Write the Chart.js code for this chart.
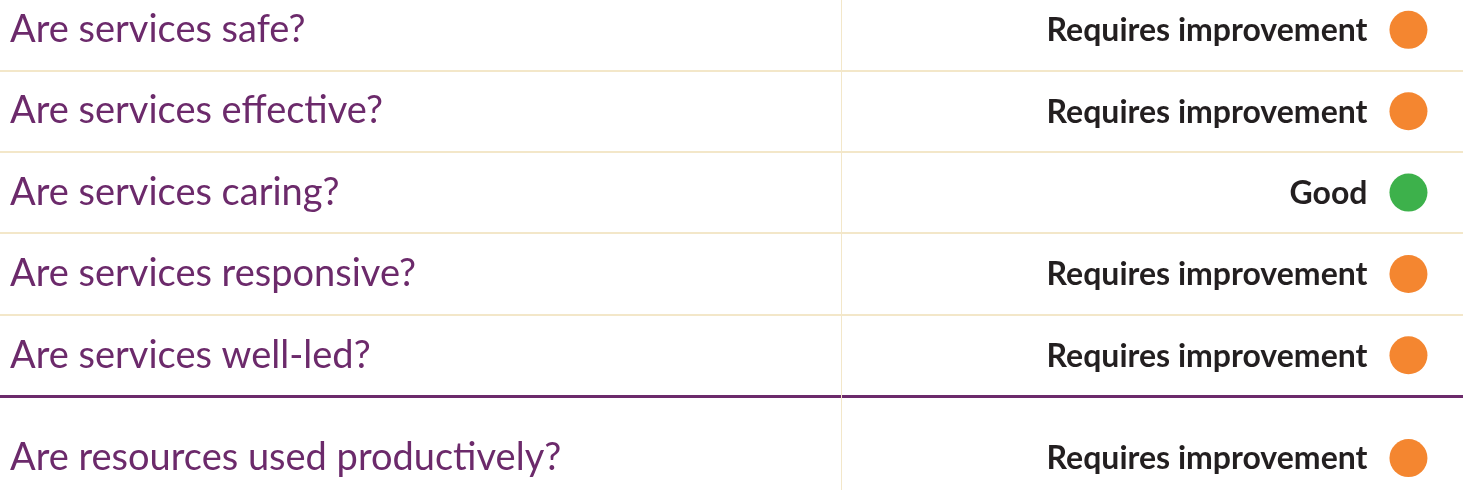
<!DOCTYPE html>
<html>
<head>
<meta charset="utf-8">
<script src="https://cdn.jsdelivr.net/npm/chart.js"></script>
<style>
    html, body { margin: 0; padding: 0; background: #ffffff; }
    body { width: 1463px; height: 490px; overflow: hidden; position: relative; }
    #canvas1 { position: absolute; left: 0; top: -11px; }
    #canvas2 { position: absolute; left: 0; top: 396px; }
</style>
</head>
<body>
<canvas id="canvas1" width="1463" height="411"></canvas>
<canvas id="canvas2" width="1463" height="128"></canvas>
<script>
// key questions
const keyQuestions = [
    "Are services safe?",
    "Are services effective?",
    "Are services caring?",
    "Are services responsive?",
    "Are services well-led?"
];
const keyRatings = [
    "Requires improvement",
    "Requires improvement",
    "Good",
    "Requires improvement",
    "Requires improvement"
];

// use of resources
const resourceQuestions = ["Are resources used productively?"];
const resourceRatings = ["Requires improvement"];

const ratingColours = {
    "Good": "#3db14b",
    "Requires improvement": "#f48630"
};

const purple = "#6c2a6b";
const beige = "#f3e7c9";

// rating text next to each dot + column divider
const ratingLabels = {
    id: "ratingLabels",
    beforeDatasetsDraw: function (chart) {
        let ctx = chart.ctx;
        ctx.save();
        ctx.strokeStyle = beige;
        ctx.lineWidth = 1;
        ctx.beginPath();
        ctx.moveTo(841.5, 0);
        ctx.lineTo(841.5, chart.height);
        ctx.stroke();
        ctx.restore();
    },
    afterDatasetsDraw: function (chart) {
        let ctx = chart.ctx;
        let meta = chart.getDatasetMeta(0);
        let ratings = chart.data.datasets[0].ratings;
        ctx.save();
        ctx.font = "bold 32px Lato";
        ctx.fillStyle = "#231f20";
        ctx.textAlign = "right";
        ctx.textBaseline = "middle";
        meta.data.forEach(function (point, i) {
            ctx.fillText(ratings[i], point.x - 41, point.y + 1);
        });
        ctx.restore();
    }
};

function showTable(target, questions, ratings, lastLine) {
    let chartdata = {
        datasets: [{
            label: "Rating",
            ratings: ratings,
            data: questions.map(function (q) { return {x: 1, y: q}; }),
            backgroundColor: ratings.map(function (r) { return ratingColours[r]; }),
            borderWidth: 0,
            pointRadius: 19,
            pointHoverRadius: 19,
            clip: false
        }]
    };

    new Chart(document.getElementById(target), {
        type: "scatter",
        data: chartdata,
        plugins: [ratingLabels],
        options: {
            responsive: false,
            animation: false,
            events: [],
            layout: { autoPadding: false, padding: { top: 0, bottom: 4, left: 0, right: 0 } },
            plugins: {
                legend: { display: false },
                tooltip: { enabled: false }
            },
            scales: {
                x: {
                    type: "linear",
                    min: 0,
                    max: 1.039,
                    display: false
                },
                y: {
                    type: "category",
                    labels: questions,
                    offset: true,
                    border: { display: false },
                    grid: {
                        offset: true,
                        tickLength: 10,
                        color: function (c) {
                            // closing line has no tick context
                            if (c.type !== "tick") return lastLine ? purple : "rgba(0,0,0,0)";
                            if (c.index === 0) return "rgba(0,0,0,0)";
                            return beige;
                        },
                        lineWidth: function (c) {
                            return c.type !== "tick" ? 3 : 2;
                        }
                    },
                    ticks: {
                        mirror: true,
                        padding: 0,
                        color: purple,
                        font: { family: "Lato", size: 38, lineHeight: 0.01 }
                    }
                }
            }
        }
    });
}

showTable("canvas1", keyQuestions, keyRatings, true);
showTable("canvas2", resourceQuestions, resourceRatings, false);
</script>
</body>
</html>
